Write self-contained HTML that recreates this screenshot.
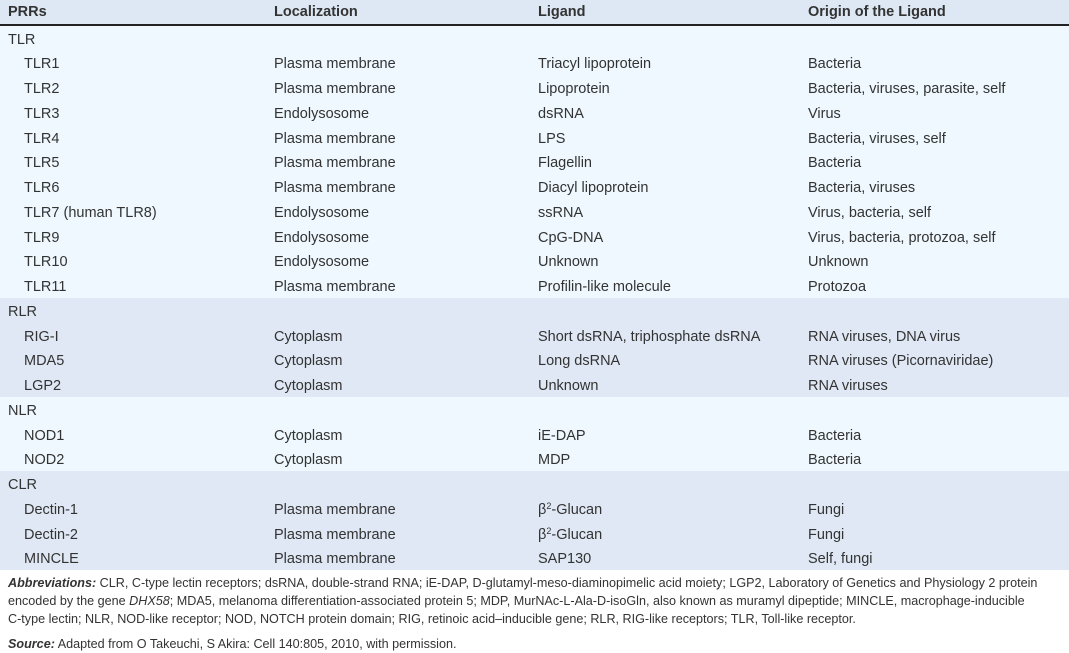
<!DOCTYPE html>
<html><head><meta charset="utf-8"><style>
body{margin:0;width:1069px;height:653px;background:#fff;font-family:"Liberation Sans",sans-serif;color:#333;overflow:hidden}
.r{position:absolute;left:0;width:1069px;height:24.7px;font-size:14.5px;line-height:24.7px}
.r span{position:absolute;white-space:nowrap}
.r sup{font-size:9px;line-height:0;vertical-align:0;position:relative;top:-5px}
.c1{left:8px}.c1i{left:24px}.c2{left:274px}.c3{left:538px}.c4{left:808px}
.band{position:absolute;left:0;width:1069px}
.note{position:absolute;left:8px;font-size:12.6px;line-height:18px;color:#333;width:1040px}
</style></head><body>
<div class="band" style="top:0;height:24px;background:#dde8f4"></div>
<div class="band" style="top:24px;height:2px;background:#222"></div>
<div class="band" style="top:26px;height:272px;background:#eef8fe"></div>
<div class="band" style="top:298px;height:99px;background:#dfe8f4"></div>
<div class="band" style="top:397px;height:74px;background:#eef8fe"></div>
<div class="band" style="top:471px;height:99px;background:#dfe8f4"></div>
<div class="r" style="top:0;font-weight:bold;line-height:24px"><span class="c1">PRRs</span><span class="c2">Localization</span><span class="c3">Ligand</span><span class="c4">Origin of the Ligand</span></div>
<div id="rows"></div>
<div class="note" style="top:574px"><b><i>Abbreviations:</i></b> CLR, C-type lectin receptors; dsRNA, double-strand RNA; iE-DAP, D-glutamyl-meso-diaminopimelic acid moiety; LGP2, Laboratory of Genetics and Physiology 2 protein encoded by the gene <i>DHX58</i>; MDA5, melanoma differentiation-associated protein 5; MDP, MurNAc-L-Ala-D-isoGln, also known as muramyl dipeptide; MINCLE, macrophage-inducible <span style="white-space:nowrap">C-type lectin;</span> NLR, NOD-like receptor; NOD, NOTCH protein domain; RIG, retinoic acid–inducible gene; RLR, RIG-like receptors; TLR, Toll-like receptor.</div>
<div class="note" style="top:635px"><b><i>Source:</i></b> Adapted from O Takeuchi, S Akira: Cell 140:805, 2010, with permission.</div>
<script>
var d=[["TLR"],["TLR1","Plasma membrane","Triacyl lipoprotein","Bacteria"],["TLR2","Plasma membrane","Lipoprotein","Bacteria, viruses, parasite, self"],["TLR3","Endolysosome","dsRNA","Virus"],["TLR4","Plasma membrane","LPS","Bacteria, viruses, self"],["TLR5","Plasma membrane","Flagellin","Bacteria"],["TLR6","Plasma membrane","Diacyl lipoprotein","Bacteria, viruses"],["TLR7 (human TLR8)","Endolysosome","ssRNA","Virus, bacteria, self"],["TLR9","Endolysosome","CpG-DNA","Virus, bacteria, protozoa, self"],["TLR10","Endolysosome","Unknown","Unknown"],["TLR11","Plasma membrane","Profilin-like molecule","Protozoa"],["RLR"],["RIG-I","Cytoplasm","Short dsRNA, triphosphate dsRNA","RNA viruses, DNA virus"],["MDA5","Cytoplasm","Long dsRNA","RNA viruses (Picornaviridae)"],["LGP2","Cytoplasm","Unknown","RNA viruses"],["NLR"],["NOD1","Cytoplasm","iE-DAP","Bacteria"],["NOD2","Cytoplasm","MDP","Bacteria"],["CLR"],["Dectin-1","Plasma membrane","β<sup>2</sup>-Glucan","Fungi"],["Dectin-2","Plasma membrane","β<sup>2</sup>-Glucan","Fungi"],["MINCLE","Plasma membrane","SAP130","Self, fungi"]];
var h="";d.forEach(function(r,i){var t=27.5+i*24.75;h+='<div class="r" style="top:'+t+'px">';if(r.length==1)h+='<span class="c1">'+r[0]+'</span>';else h+='<span class="c1i">'+r[0]+'</span><span class="c2">'+r[1]+'</span><span class="c3">'+r[2]+'</span><span class="c4">'+r[3]+'</span>';h+='</div>';});
document.getElementById("rows").outerHTML=h;
</script>
</body></html>
